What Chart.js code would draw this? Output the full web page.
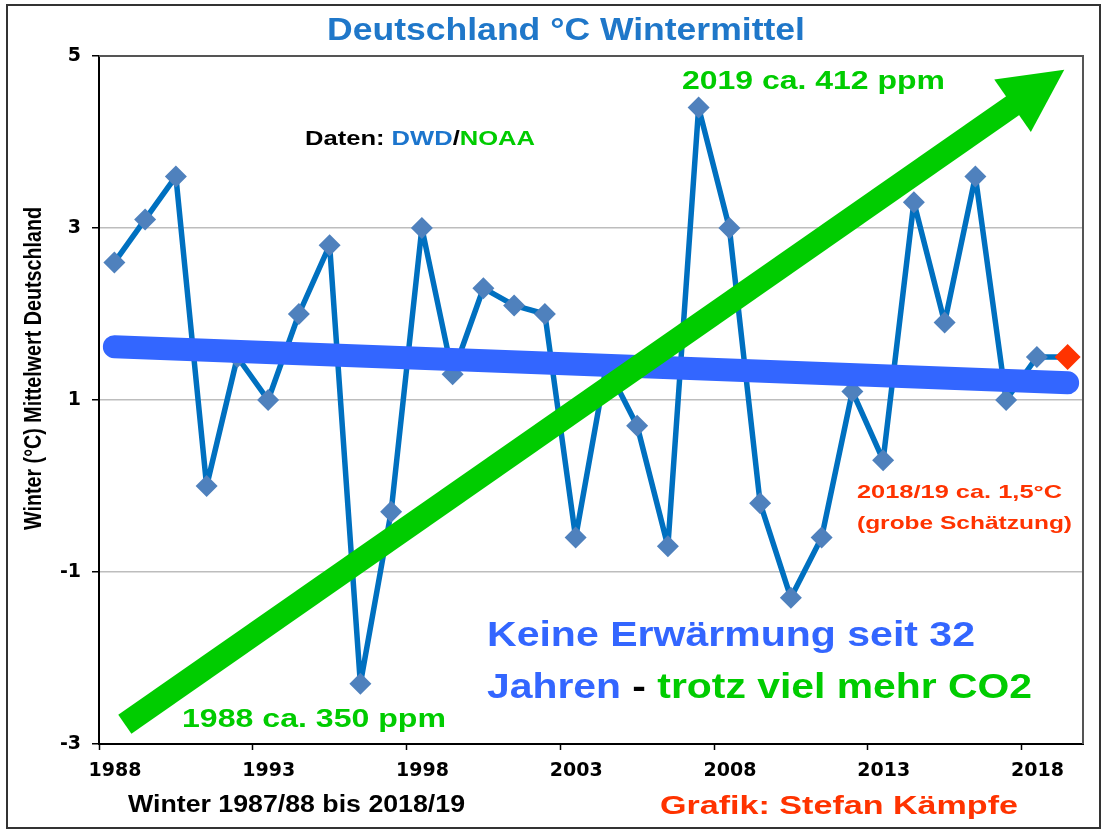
<!DOCTYPE html>
<html>
<head>
<meta charset="utf-8">
<script src="https://cdn.jsdelivr.net/npm/chart.js@4"></script>
<style>
  body { margin: 0; background: #fff; }
  canvas { display: block; }
</style>
</head>
<body>
<canvas id="winterChart" width="1108" height="832"></canvas>
<script>
// Winter means Germany, 1987/88 .. 2018/19 (last value is a rough estimate)
const winterYears = [1988, 1989, 1990, 1991, 1992, 1993, 1994, 1995, 1996, 1997, 1998, 1999, 2000, 2001, 2002, 2003,
                     2004, 2005, 2006, 2007, 2008, 2009, 2010, 2011, 2012, 2013, 2014, 2015, 2016, 2017, 2018, 2019];
const winterTemps = [2.6, 3.1, 3.6, 0.0, 1.5, 1.0, 2.0, 2.8, -2.3, -0.3, 3.0, 1.3, 2.3, 2.1, 2.0, -0.6,
                     1.4, 0.7, -0.7, 4.4, 3.0, -0.2, -1.3, -0.6, 1.1, 0.3, 3.3, 1.9, 3.6, 1.0, 1.5, 1.5];

// linear trend line (start / end)
const trendYears = [1988, 2019];
const trendTemps = [1.62, 1.2];

// CO2 arrow (start / tip)
const arrowYears = [1988.34, 2018.89];
const arrowTemps = [-2.77, 4.84];

// x axis labels and y axis ticks
const xTickLabels = [1988, 1993, 1998, 2003, 2008, 2013, 2018];
const yTicks = [-3, -1, 1, 3, 5];

const FONT = "'Liberation Sans', Arial, sans-serif";
const TICK_FONT = "'DejaVu Sans', Verdana, sans-serif";
const BLUE_LINE = '#0070C0';
const BLUE_MARK = '#4F81BD';
const TREND_BLUE = '#3366FF';
const GREEN = '#00CC00';
const RED = '#FF3300';
const TITLE_BLUE = '#1F77C9';

// draw (multi coloured) bold text, stretched to a given width like the original picture
function drawStretched(ctx, parts, x, y, size, width) {
    ctx.font = 'bold ' + size + 'px ' + FONT;
    const natural = parts.reduce((s, p) => s + ctx.measureText(p[0]).width, 0);
    ctx.save();
    ctx.translate(x, y);
    ctx.scale(width / natural, 1);
    let cx = 0;
    parts.forEach(p => {
        ctx.fillStyle = p[1];
        ctx.fillText(p[0], cx, 0);
        cx += ctx.measureText(p[0]).width;
    });
    ctx.restore();
}

// Draw the arrow, frame and all the free text
const overlayPlugin = {
    id: 'overlay',
    afterDatasetsDraw(chart) {
        const ctx = chart.ctx;
        const xs = chart.scales.x;
        const ys = chart.scales.y;

        // green arrow
        const x0 = xs.getPixelForValue(arrowYears[0]);
        const y0 = ys.getPixelForValue(arrowTemps[0]);
        const x1 = xs.getPixelForValue(arrowYears[1]);
        const y1 = ys.getPixelForValue(arrowTemps[1]);
        const len = Math.hypot(x1 - x0, y1 - y0);
        const ux = (x1 - x0) / len, uy = (y1 - y0) / len;
        const headLen = 63, headHalf = 32;
        const bx = x1 - ux * headLen, by = y1 - uy * headLen;

        ctx.save();
        ctx.strokeStyle = GREEN;
        ctx.lineWidth = 23;
        ctx.lineCap = 'butt';
        ctx.beginPath();
        ctx.moveTo(x0, y0);
        ctx.lineTo(bx + ux * 2, by + uy * 2);
        ctx.stroke();

        ctx.fillStyle = GREEN;
        ctx.beginPath();
        ctx.moveTo(x1, y1);
        ctx.lineTo(bx - uy * headHalf, by + ux * headHalf);
        ctx.lineTo(bx + uy * headHalf, by - ux * headHalf);
        ctx.closePath();
        ctx.fill();
        ctx.restore();
    },
    afterDraw(chart) {
        const ctx = chart.ctx;
        const area = chart.chartArea;
        ctx.save();

        // plot frame (top and right)
        ctx.strokeStyle = '#555';
        ctx.lineWidth = 2;
        ctx.beginPath();
        ctx.moveTo(area.left, area.top);
        ctx.lineTo(area.right, area.top);
        ctx.lineTo(area.right, area.bottom);
        ctx.stroke();

        // outer border
        ctx.strokeStyle = '#333';
        ctx.lineWidth = 2;
        ctx.strokeRect(7, 5, 1093, 823);

        ctx.textBaseline = 'middle';
        ctx.textAlign = 'left';

        // title
        drawStretched(ctx, [['Deutschland °C Wintermittel', TITLE_BLUE]], 327, 31, 31, 478);

        // y axis title
        ctx.save();
        ctx.translate(35, 530);
        ctx.rotate(-Math.PI / 2);
        drawStretched(ctx, [['Winter (°C) Mittelwert Deutschland', '#000']], 0, 0, 23, 323);
        ctx.restore();

        drawStretched(ctx, [['Daten: ', '#000'], ['DWD', '#1C75CD'], ['/', '#000'], ['NOAA', GREEN]], 305, 139, 20, 230);

        drawStretched(ctx, [['2019 ca. 412 ppm', GREEN]], 682, 82, 25, 263);
        drawStretched(ctx, [['1988 ca. 350 ppm', GREEN]], 182, 720, 25, 264);

        drawStretched(ctx, [['2018/19 ca. 1,5°C', RED]], 857, 493, 19, 205);
        drawStretched(ctx, [['(grobe Schätzung)', RED]], 857, 524, 19, 215);

        drawStretched(ctx, [['Keine Erwärmung seit 32', TREND_BLUE]], 487, 636, 35, 488);
        drawStretched(ctx, [['Jahren', TREND_BLUE], [' - ', '#000'], ['trotz viel mehr CO2', GREEN]], 487, 688, 35, 545);

        drawStretched(ctx, [['Winter 1987/88 bis 2018/19', '#000']], 128, 806, 23, 337);
        drawStretched(ctx, [['Grafik: Stefan Kämpfe', RED]], 660, 807, 26, 358);

        ctx.restore();
    }
};

const bgPlugin = {
    id: 'bg',
    beforeDraw(chart) {
        const ctx = chart.ctx;
        ctx.save();
        ctx.fillStyle = '#fff';
        ctx.fillRect(0, 0, chart.width, chart.height);
        ctx.restore();
    }
};

const tickFont = { family: TICK_FONT, size: 19, weight: 'bold' };

new Chart(document.getElementById('winterChart'), {
    type: 'line',
    data: {
        datasets: [
            {
                label: 'Trend',
                data: trendYears.map((y, i) => ({ x: y, y: trendTemps[i] })),
                borderColor: TREND_BLUE,
                borderWidth: 23,
                borderCapStyle: 'round',
                pointRadius: 0,
                order: 1
            },
            {
                label: 'Wintermittel',
                data: winterYears.map((y, i) => ({ x: y, y: winterTemps[i] })),
                borderColor: BLUE_LINE,
                borderWidth: 5.5,
                borderJoinStyle: 'round',
                tension: 0,
                pointStyle: 'rectRot',
                pointRadius: winterYears.map((y, i) => i === winterYears.length - 1 ? 13 : 11),
                pointBackgroundColor: winterYears.map((y, i) => i === winterYears.length - 1 ? RED : BLUE_MARK),
                pointBorderWidth: 0,
                order: 2
            }
        ]
    },
    options: {
        responsive: false,
        animation: false,
        layout: { padding: { top: 56, right: 25, left: 0, bottom: 0 } },
        plugins: {
            legend: { display: false },
            tooltip: { enabled: false },
            title: { display: false }
        },
        scales: {
            x: {
                type: 'linear',
                min: 1987.5,
                max: 2019.5,
                afterBuildTicks: function(scale) {
                    // tick marks sit on the boundaries between winters
                    scale.ticks = xTickLabels.map(y => ({ value: y - 0.5 }));
                },
                afterFit: function(scale) { scale.height = 88; },
                ticks: {
                    callback: v => String(v + 0.5),
                    labelOffset: 16,
                    padding: 10,
                    maxRotation: 0,
                    autoSkip: false,
                    color: '#000',
                    font: tickFont
                },
                grid: {
                    drawOnChartArea: false,
                    tickLength: 6,
                    tickColor: '#000',
                    tickWidth: 1.5
                },
                border: { color: '#000', width: 2 }
            },
            y: {
                min: -3,
                max: 5,
                afterBuildTicks: function(scale) {
                    scale.ticks = yTicks.map(v => ({ value: v }));
                },
                afterFit: function(scale) { scale.width = 99; },
                ticks: {
                    padding: 11,
                    color: '#000',
                    font: tickFont
                },
                grid: {
                    color: '#BDBDBD',
                    lineWidth: 1.5,
                    tickLength: 7,
                    tickColor: '#000',
                    tickWidth: 1.5
                },
                border: { color: '#000', width: 2 }
            }
        }
    },
    plugins: [bgPlugin, overlayPlugin]
});
</script>
</body>
</html>
